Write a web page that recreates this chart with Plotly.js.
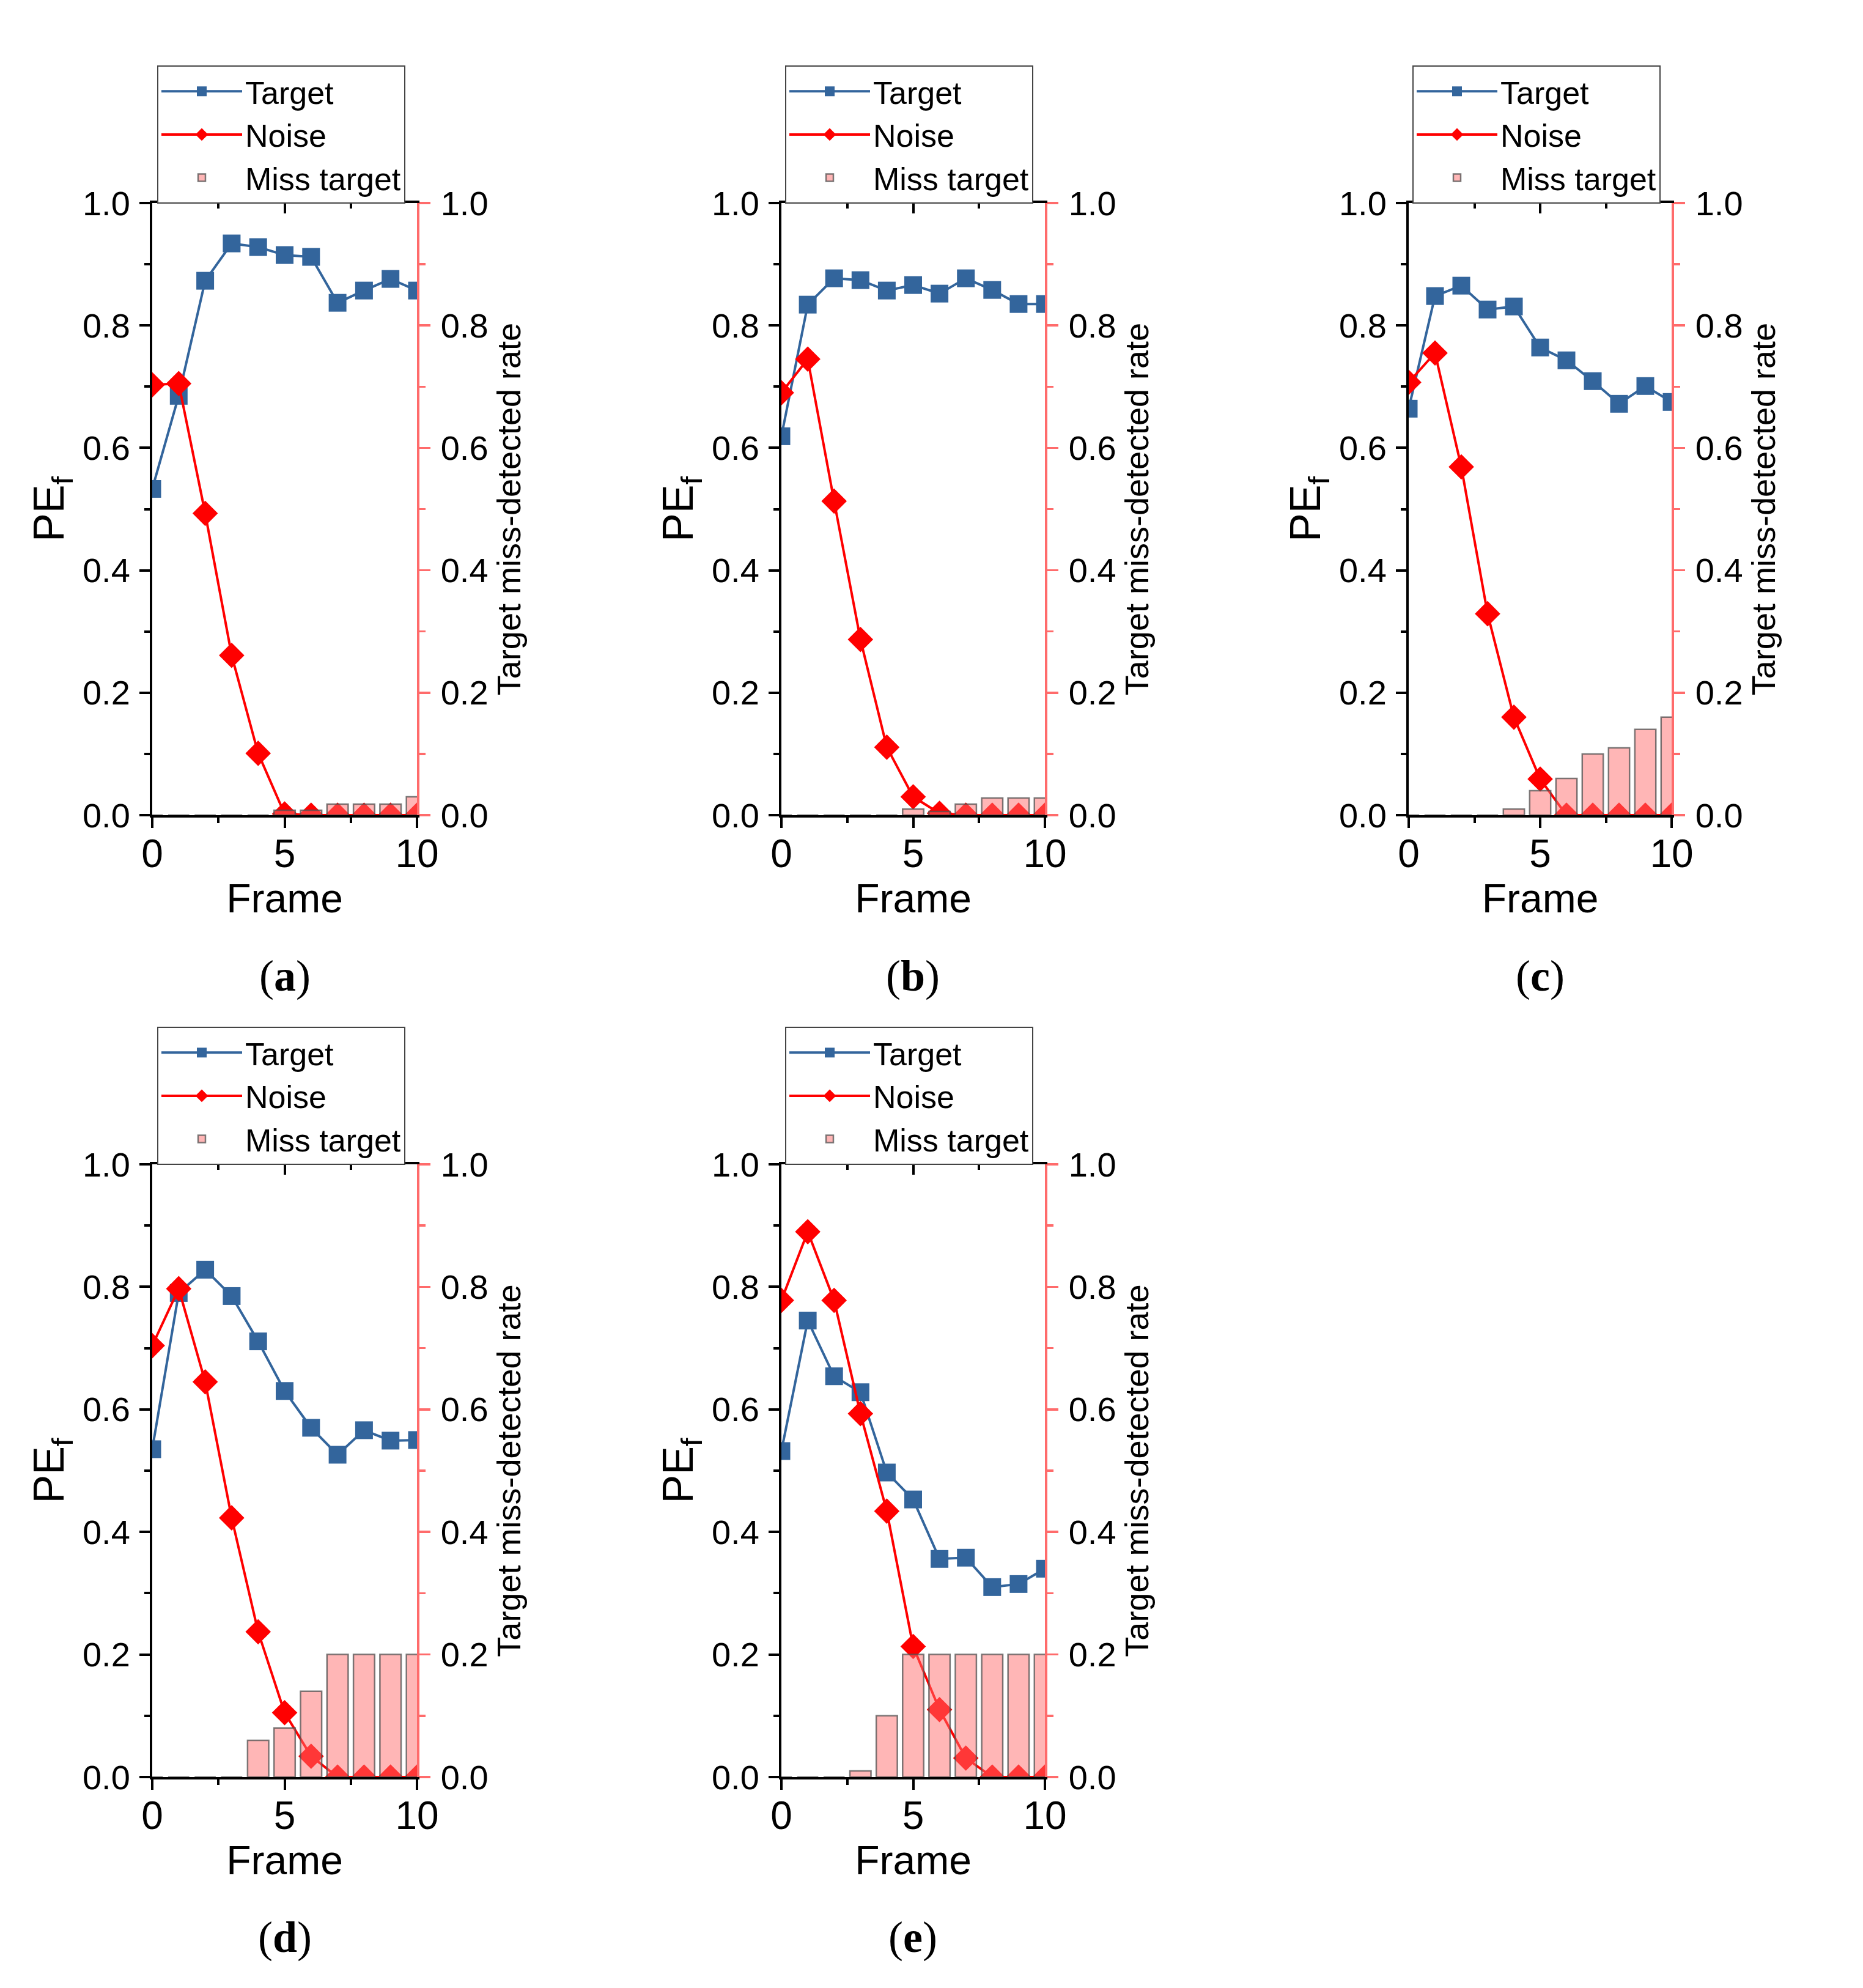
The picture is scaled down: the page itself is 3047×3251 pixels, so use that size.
<!DOCTYPE html>
<html>
<head>
<meta charset="utf-8">
<script src="https://cdn.plot.ly/plotly-3.0.1.min.js"></script>
<style>html,body{margin:0;padding:0;background:#fff;}#chart{width:3047px;height:3251px;}</style>
</head>
<body>
<div id="chart"></div>
<script>
// ---------------- data ----------------
const frames = [0, 1, 2, 3, 4, 5, 6, 7, 8, 9, 10];
const seriesNames = ["Target", "Noise", "Miss target"];
const panelLabels = ["a", "b", "c", "d", "e"];

const targetA = [0.533, 0.685, 0.873, 0.934, 0.928, 0.915, 0.912, 0.837, 0.857, 0.876, 0.857];
const noiseA  = [0.703, 0.705, 0.493, 0.261, 0.101, 0.002, 0, 0, 0, 0, 0];
const missA   = [0, 0, 0, 0, 0, 0.008, 0.008, 0.018, 0.018, 0.018, 0.03];

const targetB = [0.619, 0.834, 0.877, 0.874, 0.857, 0.866, 0.852, 0.877, 0.858, 0.835, 0.835];
const noiseB  = [0.690, 0.745, 0.513, 0.287, 0.111, 0.030, 0.003, 0, 0, 0, 0];
const missB   = [0, 0, 0, 0, 0, 0.01, 0.006, 0.018, 0.028, 0.028, 0.028];

const targetC = [0.664, 0.848, 0.865, 0.826, 0.831, 0.764, 0.743, 0.709, 0.672, 0.701, 0.675];
const noiseC  = [0.707, 0.755, 0.569, 0.329, 0.160, 0.059, 0, 0, 0, 0, 0];
const missC   = [0, 0, 0, 0, 0.01, 0.04, 0.06, 0.10, 0.11, 0.14, 0.16];

const targetD = [0.535, 0.790, 0.828, 0.785, 0.711, 0.630, 0.570, 0.526, 0.566, 0.549, 0.550];
const noiseD  = [0.704, 0.797, 0.645, 0.423, 0.237, 0.105, 0.034, 0, 0, 0, 0];
const missD   = [0, 0, 0, 0, 0.06, 0.08, 0.14, 0.2, 0.2, 0.2, 0.2];

const targetE = [0.532, 0.745, 0.654, 0.628, 0.497, 0.453, 0.356, 0.358, 0.310, 0.315, 0.340];
const noiseE  = [0.778, 0.890, 0.778, 0.593, 0.434, 0.213, 0.110, 0.031, 0, 0, 0];
const missE   = [0, 0, 0, 0.01, 0.10, 0.2, 0.2, 0.2, 0.2, 0.2, 0.2];

const targets = [targetA, targetB, targetC, targetD, targetE];
const noises  = [noiseA, noiseB, noiseC, noiseD, noiseE];
const misses  = [missA, missB, missC, missD, missE];

// ---------------- layout geometry (pixels in the 3047x3251 page) ----------------
const W = 3047, H = 3251;
const boxes = [
  {x0: 249,  x1: 682,  y0: 332,  y1: 1333, lx: 257,  ly: 107,  cx: 466,  cy: 1596},
  {x0: 1278, x1: 1709, y0: 332,  y1: 1333, lx: 1284, ly: 107,  cx: 1493, cy: 1596},
  {x0: 2304, x1: 2734, y0: 332,  y1: 1333, lx: 2310, ly: 107,  cx: 2519, cy: 1596},
  {x0: 249,  x1: 682,  y0: 1904, y1: 2906, lx: 257,  ly: 1679, cx: 466,  cy: 3168},
  {x0: 1278, x1: 1709, y0: 1904, y1: 2906, lx: 1284, ly: 1679, cx: 1493, cy: 3168}
];

const BLUE = "#33659C";
const RED = "#FF0000";
const AXRED = "#FF6B6B";
const FONT = "Liberation Sans, Arial, Helvetica, sans-serif";

const data = [];
const layout = {
  width: W, height: H,
  margin: {l: 0, r: 0, t: 0, b: 0},
  paper_bgcolor: "#ffffff",
  plot_bgcolor: "rgba(0,0,0,0)",
  font: {family: FONT, color: "#000000", size: 56},
  hovermode: false,
  showlegend: true,
  annotations: []
};

boxes.forEach((b, i) => {
  const p = i + 1;
  const xName = p === 1 ? "x" : "x" + p;
  const xTop = "x" + (p + 5);
  const yL = (2 * p - 1) === 1 ? "y" : "y" + (2 * p - 1);
  const yR = "y" + (2 * p);
  const legName = p === 1 ? "legend" : "legend" + p;
  const xd = [b.x0 / W, b.x1 / W];
  const yd = [1 - b.y1 / H, 1 - b.y0 / H];

  data.push({
    type: "scatter", mode: "lines+markers", name: seriesNames[0],
    x: frames, y: targets[i], xaxis: xName, yaxis: yL, legend: legName,
    line: {color: BLUE, width: 4},
    marker: {symbol: "square", size: 29, color: BLUE}
  });
  data.push({
    type: "scatter", mode: "lines+markers", name: seriesNames[1],
    x: frames, y: noises[i], xaxis: xName, yaxis: yL, legend: legName,
    line: {color: RED, width: 4},
    marker: {symbol: "diamond", size: 32, color: RED}
  });
  data.push({
    type: "bar", name: seriesNames[2],
    x: frames, y: misses[i], xaxis: xName, yaxis: yR, legend: legName,
    width: 0.8,
    marker: {color: "rgba(255,110,110,0.5)", line: {color: "rgba(80,80,80,0.75)", width: 2.5}}
  });
  // carrier for the top mirror axis
  data.push({
    type: "scatter", mode: "markers", x: [null], y: [null],
    xaxis: xTop, yaxis: yL, showlegend: false, hoverinfo: "skip"
  });

  const xKey = p === 1 ? "xaxis" : "xaxis" + p;
  const xTopKey = "xaxis" + (p + 5);
  const yLKey = (2 * p - 1) === 1 ? "yaxis" : "yaxis" + (2 * p - 1);
  const yRKey = "yaxis" + (2 * p);

  layout[xKey] = {
    domain: xd, anchor: yL, range: [0, 10], automargin: false,
    showgrid: false, zeroline: false,
    showline: true, linecolor: "#000", linewidth: 4,
    ticks: "outside", ticklen: 17, tickwidth: 4, tickcolor: "#000",
    tick0: 0, dtick: 5, ticklabelstandoff: -13,
    minor: {dtick: 2.5, ticks: "outside", ticklen: 9, tickwidth: 4, tickcolor: "#000"},
    tickfont: {size: 64, family: FONT},
    title: {text: "Frame", font: {size: 66, family: FONT}, standoff: 0}
  };
  layout[xTopKey] = {
    domain: xd, anchor: yL, overlaying: xName, side: "top", range: [0, 10], automargin: false,
    showgrid: false, zeroline: false,
    showline: true, linecolor: "#000", linewidth: 4,
    ticks: "inside", ticklen: 17, tickwidth: 4, tickcolor: "#000",
    tick0: 0, dtick: 5, showticklabels: false,
    minor: {dtick: 2.5, ticks: "inside", ticklen: 9, tickwidth: 4, tickcolor: "#000"}
  };
  layout[yLKey] = {
    domain: yd, anchor: xName, range: [0, 1], automargin: false,
    showgrid: false, zeroline: false,
    showline: true, linecolor: "#000", linewidth: 4,
    ticks: "outside", ticklen: 17, tickwidth: 4, tickcolor: "#000",
    tick0: 0, dtick: 0.2, tickformat: ".1f", ticklabelstandoff: 4,
    minor: {dtick: 0.1, ticks: "outside", ticklen: 9, tickwidth: 4, tickcolor: "#000"},
    tickfont: {size: 56, family: FONT},
    title: {text: "PE<sub>f</sub>", font: {size: 70, family: FONT}, standoff: 8}
  };
  layout[yRKey] = {
    domain: yd, anchor: xName, overlaying: yL, side: "right", range: [0, 1], automargin: false,
    showgrid: false, zeroline: false,
    showline: true, linecolor: AXRED, linewidth: 3.5,
    ticks: "outside", ticklen: 18, tickwidth: 3.5, tickcolor: AXRED,
    tick0: 0, dtick: 0.2, tickformat: ".1f", ticklabelstandoff: 6,
    minor: {dtick: 0.1, ticks: "outside", ticklen: 10, tickwidth: 3.5, tickcolor: AXRED},
    tickfont: {size: 56, family: FONT, color: "#000"},
    title: {text: "Target miss-detected rate", font: {size: 54, family: FONT, color: "#000"}, standoff: 16}
  };
  layout[legName] = {
    x: b.lx / W, y: 1 - b.ly / H, xanchor: "left", yanchor: "top",
    bgcolor: "#ffffff", bordercolor: "#444", borderwidth: 2,
    font: {size: 52, family: FONT, color: "#000"},
    itemwidth: 132, traceorder: "normal", tracegroupgap: 0
  };
  layout.annotations.push({
    xref: "paper", yref: "paper", x: b.cx / W, y: 1 - b.cy / H,
    xanchor: "center", yanchor: "middle", showarrow: false,
    text: "(<b>" + panelLabels[i] + "</b>)",
    font: {family: "Liberation Serif, Times New Roman, serif", size: 72, color: "#000"}
  });
});

Plotly.newPlot("chart", data, layout, {staticPlot: true, displayModeBar: false});
</script>
</body>
</html>
